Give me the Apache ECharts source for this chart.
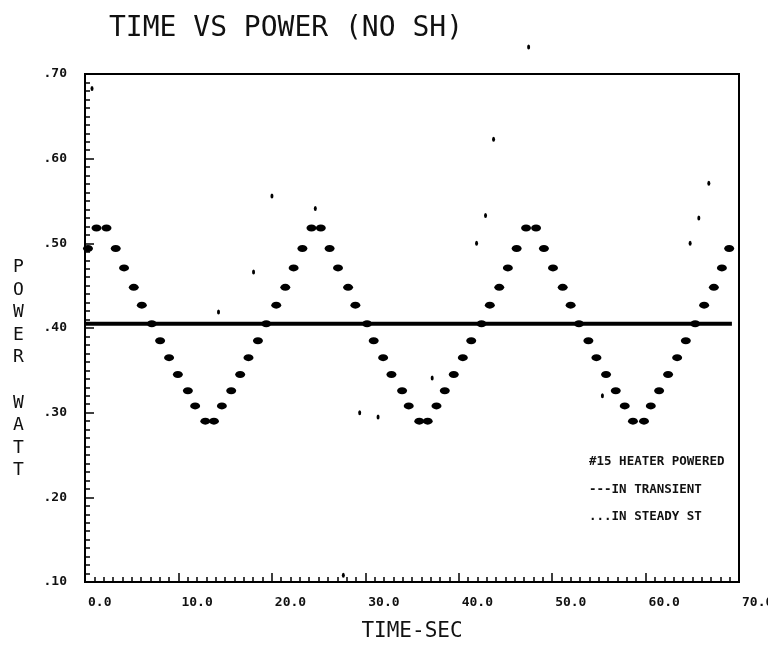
<!DOCTYPE html>
<html>
<head>
<meta charset="utf-8">
<script src="https://cdn.jsdelivr.net/npm/echarts@6/dist/echarts.min.js"></script>
<style>
html,body{margin:0;padding:0;background:#fff;overflow:hidden;}
#chart{width:768px;height:645px;}
</style>
</head>
<body>
<div id="chart"></div>
<script>
// Steady-state samples (drawn as short dashes)
var steadyTime = [0.32, 1.23, 2.30, 3.29, 4.18, 5.22, 6.08, 7.15, 8.04, 9.00, 9.94, 11.01, 11.79, 12.88, 13.80,
  14.65, 15.65, 16.61, 17.50, 18.51, 19.40, 20.47, 21.44, 22.33, 23.27, 24.24, 25.24,
  26.18, 27.08, 28.16, 28.94, 30.19, 30.90, 31.91, 32.80, 33.94, 34.65, 35.78, 36.68,
  37.62, 38.51, 39.47, 40.44, 41.34, 42.44, 43.33, 44.34, 45.26, 46.20, 47.21, 48.28,
  49.12, 50.09, 51.13, 51.98, 52.87, 53.88, 54.74, 55.77, 56.81, 57.77, 58.65, 59.83,
  60.56, 61.45, 62.41, 63.38, 64.31, 65.31, 66.27, 67.31, 68.17, 68.95];
var steadyPower = [0.494, 0.518, 0.518, 0.494, 0.471, 0.448, 0.427, 0.405, 0.385, 0.365, 0.345, 0.326, 0.308, 0.290, 0.290,
  0.308, 0.326, 0.345, 0.365, 0.385, 0.405, 0.427, 0.448, 0.471, 0.494, 0.518, 0.518,
  0.494, 0.471, 0.448, 0.427, 0.405, 0.385, 0.365, 0.345, 0.326, 0.308, 0.290, 0.290,
  0.308, 0.326, 0.345, 0.365, 0.385, 0.405, 0.427, 0.448, 0.471, 0.494, 0.518, 0.518,
  0.494, 0.471, 0.448, 0.427, 0.405, 0.385, 0.365, 0.345, 0.326, 0.308, 0.290, 0.290,
  0.308, 0.326, 0.345, 0.365, 0.385, 0.405, 0.427, 0.448, 0.471, 0.494];

// Transient samples (small dots)
var transTime = [0.75, 14.29, 18.04, 20.01, 24.65, 27.65, 29.40, 31.37, 37.16, 41.91, 42.87, 43.73, 47.48, 55.38, 64.77, 65.70, 66.77];
var transPower = [0.683, 0.419, 0.466, 0.556, 0.541, 0.108, 0.300, 0.295, 0.341, 0.500, 0.533, 0.623, 0.732, 0.320, 0.500, 0.530, 0.571];

// Reference level line
var lineTime = [0, 69.24];
var linePower = [0.405, 0.405];

var titleText = 'TIME VS POWER (NO SH)';
var legendLines = ['#15 HEATER POWERED', '---IN TRANSIENT', '...IN STEADY ST'];

function pairs(xs, ys) { return xs.map(function (x, i) { return [x, ys[i]]; }); }

var ink = '#111';
var monoBold = { fontFamily: 'DejaVu Sans Mono', fontWeight: 'bold', fontSize: 13, color: ink };

var chart = echarts.init(document.getElementById('chart'), null, { renderer: 'canvas' });
chart.setOption({
  animation: false,
  backgroundColor: '#fff',
  title: {
    text: titleText,
    left: 104, top: 10,
    textStyle: { fontFamily: 'DejaVu Sans Mono', fontWeight: 'normal', fontSize: 28, color: ink }
  },
  grid: {
    left: 85, right: 29, top: 74, bottom: 63,
    outerBoundsMode: 'none', containLabel: false,
    show: true, borderColor: '#000', borderWidth: 2, backgroundColor: 'transparent'
  },
  xAxis: {
    type: 'value', min: 0, max: 70, interval: 10,
    name: 'TIME-SEC', nameLocation: 'middle', nameGap: 39,
    nameTextStyle: { fontFamily: 'DejaVu Sans Mono', fontSize: 21, color: ink },
    axisLine: { show: true, lineStyle: { color: '#000', width: 2 } },
    axisTick: { show: true, inside: true, length: 9, lineStyle: { color: '#000', width: 1.5 } },
    minorTick: { show: true, splitNumber: 10, length: 5, lineStyle: { color: '#000', width: 1.5 } },
    splitLine: { show: false },
    axisLabel: Object.assign({ margin: 14, align: 'left', padding: [0, 0, 0, 3], formatter: function (v) { return v.toFixed(1); } }, monoBold)
  },
  yAxis: {
    type: 'value', min: 0.1, max: 0.7, interval: 0.1,
    axisLine: { show: true, lineStyle: { color: '#000', width: 2 } },
    axisTick: { show: true, inside: true, length: 9, lineStyle: { color: '#000', width: 1.5 } },
    minorTick: { show: true, splitNumber: 10, length: 5, lineStyle: { color: '#000', width: 1.5 } },
    splitLine: { show: false },
    axisLabel: Object.assign({ margin: 18, formatter: function (v) { return v.toFixed(2).replace(/^0/, ''); } }, monoBold)
  },
  graphic: [
    { type: 'text', left: 13, top: 256, style: { text: 'P\nO\nW\nE\nR\n\nW\nA\nT\nT', fontFamily: 'DejaVu Sans Mono', fontSize: 18, lineHeight: 22.6, fill: ink, align: 'center' } },
    { type: 'text', left: 589, top: 455, style: { text: legendLines[0], fontFamily: 'DejaVu Sans Mono', fontWeight: 'bold', fontSize: 12.5, fill: ink } },
    { type: 'text', left: 589, top: 483, style: { text: legendLines[1], fontFamily: 'DejaVu Sans Mono', fontWeight: 'bold', fontSize: 12.5, fill: ink } },
    { type: 'text', left: 589, top: 510, style: { text: legendLines[2], fontFamily: 'DejaVu Sans Mono', fontWeight: 'bold', fontSize: 12.5, fill: ink } }
  ],
  series: [
    {
      name: 'IN TRANSIENT LINE', type: 'line', data: pairs(lineTime, linePower),
      symbol: 'none', lineStyle: { color: '#000', width: 4 }, z: 2, silent: true
    },
    {
      name: 'IN STEADY ST', type: 'scatter', data: pairs(steadyTime, steadyPower),
      symbol: 'path://M0 3A4.5 3 0 1 0 9 3A4.5 3 0 1 0 0 3Z', symbolSize: [10, 7],
      itemStyle: { color: '#000', opacity: 1 }, z: 3, clip: false
    },
    {
      name: 'IN TRANSIENT', type: 'scatter', data: pairs(transTime, transPower),
      symbol: 'path://M0 2.5A1.5 2.5 0 1 0 3 2.5A1.5 2.5 0 1 0 0 2.5Z', symbolSize: [3, 5],
      itemStyle: { color: '#000', opacity: 1 }, z: 3, clip: false
    }
  ]
});
</script>
</body>
</html>
